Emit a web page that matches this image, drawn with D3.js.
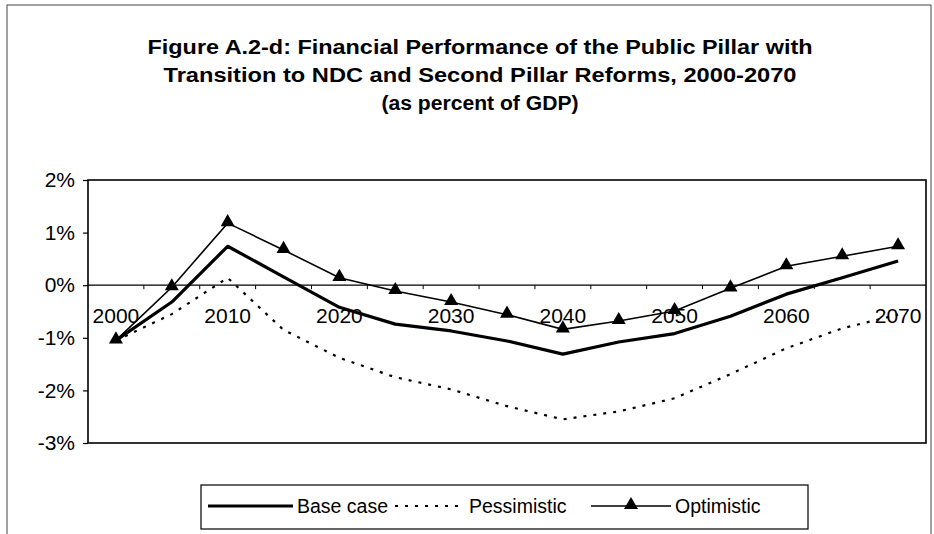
<!DOCTYPE html>
<html>
<head>
<meta charset="utf-8">
<script src="https://cdn.jsdelivr.net/npm/d3@7"></script>
<style>
    body { margin: 0; background: #fff; }
    svg { font-family: "Liberation Sans", Arial, sans-serif; }
</style>
</head>
<body>
<div id="chart"></div>
<script>
let years = ["2000", "2005", "2010", "2015", "2020", "2025", "2030", "2035",
    "2040", "2045", "2050", "2055", "2060", "2065", "2070"];
let yTicks = [2, 1, 0, -1, -2, -3];
let baseCase = [-1.05, -0.32, 0.74, 0.16, -0.42, -0.74, -0.87, -1.06, -1.31, -1.08, -0.92, -0.59, -0.17, 0.14, 0.46];
let pessimistic = [-1.05, -0.55, 0.14, -0.85, -1.38, -1.75, -1.98, -2.3, -2.55, -2.4, -2.15, -1.69, -1.2, -0.82, -0.56];
let optimistic = [-1.05, -0.04, 1.18, 0.67, 0.14, -0.11, -0.32, -0.56, -0.84, -0.68, -0.49, -0.06, 0.36, 0.55, 0.74];
let titleLines = [
    "Figure A.2-d: Financial Performance of the Public Pillar with",
    "Transition to NDC and Second Pillar Reforms, 2000-2070",
    "(as percent of GDP)"
];
let titleWidths = [665, 633, 197];

function printLineChart() {
    let W = 934, H = 534;
    let margin = {top: 180, left: 88},
        width = 926 - margin.left,
        height = 443 - margin.top;

    let svg = d3.select("#chart").append("svg")
        .attr("width", W)
        .attr("height", H);

    // outer chart frame
    svg.append("rect")
        .attr("x", 7).attr("y", 5)
        .attr("width", 924).attr("height", 540)
        .attr("fill", "none")
        .attr("stroke", "#444")
        .attr("stroke-width", 1);

    svg.selectAll(".title")
        .data(titleLines)
        .enter().append("text")
        .attr("class", "title")
        .attr("x", 480)
        .attr("y", (d, i) => 54 + i * 28)
        .attr("text-anchor", "middle")
        .attr("font-size", 20)
        .attr("font-weight", "bold")
        .attr("textLength", (d, i) => titleWidths[i])
        .attr("lengthAdjust", "spacingAndGlyphs")
        .text((d) => d);

    let g = svg.append("g")
        .attr("transform", "translate(" + margin.left + "," + margin.top + ")");

    let xScale = d3.scaleBand().range([0, width]).domain(years);
    let xPos = (d, i) => xScale(years[i]) + xScale.bandwidth() / 2;
    let yScale = d3.scaleLinear().range([height, 0]).domain([-3, 2]);

    // y axis
    g.append("g")
        .call(d3.axisLeft(yScale).tickValues(yTicks).tickSize(5).tickFormat((d) => d + "%"))
        .call((a) => a.select(".domain").remove())
        .call((a) => a.selectAll("line").attr("stroke-width", 1.2))
        .call((a) => a.selectAll("text")
            .attr("font-size", 21)
            .attr("font-family", "Liberation Sans, Arial, sans-serif")
            .attr("fill", "#000")
            .attr("x", -13));

    // plot frame
    g.append("rect")
        .attr("width", width).attr("height", height)
        .attr("fill", "none")
        .attr("stroke", "#000")
        .attr("stroke-width", 1.6);

    // x axis at zero
    let xAxis = g.append("g")
        .attr("transform", "translate(0," + yScale(0) + ")");
    xAxis.append("line")
        .attr("x1", 0).attr("x2", width)
        .attr("stroke", "#000").attr("stroke-width", 1.2);
    xAxis.selectAll(".tick")
        .data(years.slice(1))
        .enter().append("line")
        .attr("x1", (d) => xScale(d)).attr("x2", (d) => xScale(d))
        .attr("y1", 0).attr("y2", 4)
        .attr("stroke", "#000");
    xAxis.selectAll(".xlabel")
        .data(years.filter((d, i) => i % 2 === 0))
        .enter().append("text")
        .attr("x", (d) => xScale(d) + xScale.bandwidth() / 2)
        .attr("y", 38)
        .attr("text-anchor", "middle")
        .attr("font-size", 21)
        .text((d) => d);

    let line = d3.line().x(xPos).y((d) => yScale(d));

    g.append("path")
        .datum(pessimistic)
        .attr("d", line)
        .attr("fill", "none")
        .attr("stroke", "#000")
        .attr("stroke-width", 2.2)
        .attr("stroke-dasharray", "3,7");

    g.append("path")
        .datum(baseCase)
        .attr("d", line)
        .attr("fill", "none")
        .attr("stroke", "#000")
        .attr("stroke-width", 3.2)
        .attr("stroke-linejoin", "round");

    g.append("path")
        .datum(optimistic)
        .attr("d", line)
        .attr("fill", "none")
        .attr("stroke", "#000")
        .attr("stroke-width", 1.6);

    let tri = d3.symbol().type(d3.symbolTriangle).size(85);
    g.selectAll(".tri")
        .data(optimistic)
        .enter().append("path")
        .attr("class", "tri")
        .attr("d", tri)
        .attr("transform", (d, i) => "translate(" + xPos(d, i) + "," + (yScale(d) - 1) + ")")
        .attr("fill", "#000");

    // legend
    let lg = svg.append("g").attr("transform", "translate(201,485)");
    lg.append("rect")
        .attr("width", 607).attr("height", 44)
        .attr("fill", "#fff")
        .attr("stroke", "#000")
        .attr("stroke-width", 1.2);
    let ly = 21;
    lg.append("line").attr("x1", 7).attr("x2", 92).attr("y1", ly).attr("y2", ly)
        .attr("stroke", "#000").attr("stroke-width", 3.2);
    lg.append("line").attr("x1", 194).attr("x2", 262).attr("y1", ly).attr("y2", ly)
        .attr("stroke", "#000").attr("stroke-width", 2.2).attr("stroke-dasharray", "3,7");
    lg.append("line").attr("x1", 390).attr("x2", 470).attr("y1", ly).attr("y2", ly)
        .attr("stroke", "#000").attr("stroke-width", 1.6);
    lg.append("path").attr("d", tri)
        .attr("transform", "translate(430," + (ly - 1) + ")");
    let legendLabels = [
        {label: "Base case", x: 96},
        {label: "Pessimistic", x: 268},
        {label: "Optimistic", x: 474}
    ];
    lg.selectAll(".ltext")
        .data(legendLabels)
        .enter().append("text")
        .attr("x", (d) => d.x)
        .attr("y", ly + 7)
        .attr("font-size", 19.5)
        .text((d) => d.label);
}

printLineChart();
</script>
</body>
</html>
